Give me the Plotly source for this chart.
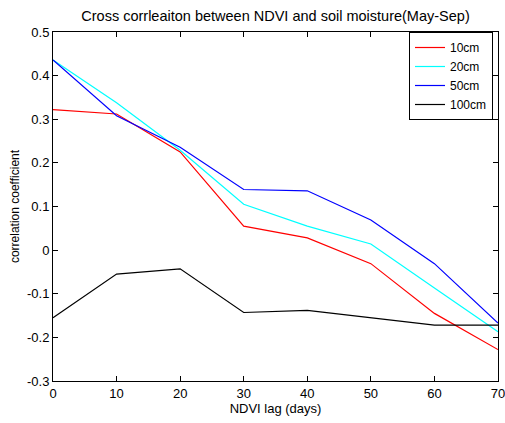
import plotly.graph_objects as go

lag_days = [0, 10, 20, 30, 40, 50, 60, 70]
corr_10cm = [0.322, 0.312, 0.225, 0.055, 0.028, -0.031, -0.145, -0.228]
corr_20cm = [0.436, 0.338, 0.229, 0.105, 0.055, 0.014, -0.087, -0.187]
corr_50cm = [0.436, 0.308, 0.236, 0.139, 0.136, 0.069, -0.031, -0.167]
corr_100cm = [-0.155, -0.055, -0.043, -0.143, -0.138, -0.155, -0.172, -0.172]

series = [
    ("10cm", corr_10cm, "#FF0000"),
    ("20cm", corr_20cm, "#00FFFF"),
    ("50cm", corr_50cm, "#0000FF"),
    ("100cm", corr_100cm, "#000000"),
]

FAM = "Liberation Sans, Arial, sans-serif"

fig = go.Figure()
for name, vals, color in series:
    fig.add_trace(go.Scatter(x=lag_days, y=vals, mode="lines", name=name,
                             line=dict(color=color, width=1.2)))

fig.update_layout(
    width=505, height=423,
    margin=dict(l=53, r=7, t=32, b=42, autoexpand=False),
    paper_bgcolor="#FFFFFF", plot_bgcolor="#FFFFFF",
    font=dict(family=FAM, size=13, color="#000000"),
    title=dict(text="Cross corrleaiton between NDVI and soil moisture(May-Sep)",
               xref="paper", x=0.5, xanchor="center", y=1 - 16 / 423, yanchor="middle",
               font=dict(family=FAM, size=14.5, color="#000000")),
    showlegend=True,
    legend=dict(x=0.8, xanchor="left", y=1, yanchor="top",
                bgcolor="#FFFFFF", bordercolor="#000000", borderwidth=1,
                font=dict(family=FAM, size=12),
                entrywidth=50, entrywidthmode="pixels",
                itemwidth=30, tracegroupgap=0),
)

fig.update_xaxes(range=[0, 70], tickvals=lag_days,
                 ticks="inside", ticklen=5, tickcolor="#000000",
                 tickfont=dict(family=FAM, size=13), ticklabeloverflow="allow",
                 showline=True, linecolor="#000000", linewidth=1, mirror="ticks",
                 showgrid=False, zeroline=False, automargin=False,
                 title=dict(text="NDVI lag (days)", standoff=4, font=dict(family=FAM, size=13)))
fig.update_yaxes(range=[-0.3, 0.5], tickvals=[-0.3, -0.2, -0.1, 0, 0.1, 0.2, 0.3, 0.4, 0.5],
                 ticktext=["-0.3", "-0.2", "-0.1", "0", "0.1", "0.2", "0.3", "0.4", "0.5"],
                 ticks="inside", ticklen=5, tickcolor="#000000",
                 tickfont=dict(family=FAM, size=13), ticklabeloverflow="allow",
                 showline=True, linecolor="#000000", linewidth=1, mirror="ticks",
                 showgrid=False, zeroline=False, automargin=False,
                 title=dict(text="correlation coefficient", standoff=4, font=dict(family=FAM, size=12)))

fig.write_html("out.html")
